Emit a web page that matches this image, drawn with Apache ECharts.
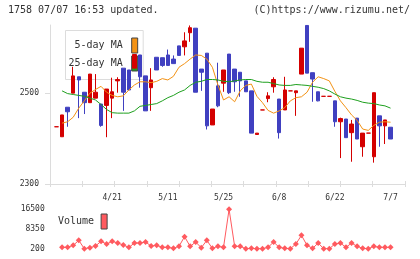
<!DOCTYPE html>
<html>
<head>
<meta charset="utf-8">
<script src="https://cdn.jsdelivr.net/npm/echarts@6/dist/echarts.min.js"></script>
<style>
  html, body { margin: 0; padding: 0; background: #fff; }
  #chart { width: 420px; height: 259px; }
</style>
</head>
<body>
<div id="chart"></div>
<script>
const dates = [
  "4/7", "4/8", "4/9", "4/10", "4/13", "4/14", "4/15", "4/16", "4/17", "4/20",
  "4/21", "4/22", "4/23", "4/24", "4/27", "4/28", "4/30", "5/1", "5/7", "5/8",
  "5/11", "5/12", "5/13", "5/14", "5/15", "5/18", "5/19", "5/20", "5/21", "5/22",
  "5/25", "5/26", "5/27", "5/28", "5/29", "6/1", "6/2", "6/3", "6/4", "6/5",
  "6/8", "6/9", "6/10", "6/11", "6/12", "6/15", "6/16", "6/17", "6/18", "6/19",
  "6/22", "6/23", "6/24", "6/25", "6/26", "6/29", "6/30", "7/1", "7/2", "7/3",
  "7/7"
]

// [open, close, low, high]
const ohlc = [
  [2426, 2426, 2426, 2426], [2404, 2452, 2404, 2452], [2469, 2459, 2426, 2469], [2500, 2538, 2500, 2558],
  [2536, 2529, 2445, 2536], [2502, 2479, 2454, 2502], [2479, 2542, 2479, 2542], [2489, 2502, 2489, 2542],
  [2476, 2429, 2426, 2476], [2473, 2509, 2403, 2509], [2489, 2503, 2445, 2534], [2527, 2530, 2501, 2535],
  [2555, 2502, 2461, 2555], [2551, 2507, 2507, 2551], [2555, 2585, 2555, 2585], [2584, 2536, 2512, 2584],
  [2538, 2461, 2461, 2538], [2512, 2529, 2461, 2555], [2579, 2551, 2551, 2579], [2578, 2561, 2558, 2578],
  [2584, 2561, 2561, 2596], [2575, 2565, 2565, 2583], [2604, 2583, 2583, 2604], [2602, 2615, 2583, 2634],
  [2633, 2644, 2613, 2649], [2643, 2502, 2502, 2643], [2553, 2546, 2505, 2553], [2588, 2428, 2420, 2588],
  [2430, 2465, 2430, 2465], [2516, 2472, 2469, 2567], [2522, 2551, 2503, 2551], [2586, 2501, 2498, 2586],
  [2553, 2525, 2503, 2553], [2546, 2527, 2492, 2546], [2527, 2503, 2503, 2527], [2505, 2412, 2412, 2505],
  [2409, 2412, 2409, 2412], [2463, 2463, 2463, 2463], [2488, 2494, 2480, 2502], [2514, 2530, 2501, 2535],
  [2487, 2413, 2400, 2487], [2463, 2507, 2463, 2536], [2505, 2505, 2505, 2505], [2501, 2505, 2450, 2505],
  [2542, 2599, 2542, 2599], [2649, 2544, 2544, 2649], [2545, 2531, 2481, 2545], [2503, 2483, 2482, 2503],
  [2493, 2493, 2493, 2493], [2493, 2493, 2493, 2493], [2483, 2437, 2426, 2483], [2437, 2444, 2357, 2446],
  [2443, 2402, 2402, 2443], [2413, 2432, 2349, 2441], [2445, 2399, 2399, 2445], [2382, 2412, 2360, 2412],
  [2412, 2412, 2412, 2412], [2360, 2501, 2347, 2501], [2450, 2428, 2382, 2450], [2428, 2441, 2388, 2441],
  [2425, 2399, 2399, 2425]
]

const ma5 = [
  null, 2434, 2437, 2447, 2467, 2483, 2500, 2508, 2515, 2502,
  2495, 2492, 2494, 2507, 2518, 2525, 2525, 2523, 2526, 2532,
  2529, 2537, 2557, 2565, 2575, 2584, 2583, 2575, 2557, 2518,
  2485, 2492, 2481, 2505, 2517, 2520, 2493, 2479, 2462, 2456,
  2461, 2468, 2483, 2490, 2492, 2502, 2524, 2536, 2532, 2527,
  2504, 2483, 2468, 2452, 2440, 2421, 2418, 2429, 2436, 2437,
  2436
]

const ma25 = [
  null, 2505, 2499, 2497, 2495, 2493, 2489, 2485, 2475, 2464,
  2457, 2456, 2456, 2456, 2461, 2471, 2473, 2475, 2477, 2483,
  2490, 2495, 2502, 2507, 2517, 2524, 2526, 2530, 2530, 2529,
  2526, 2525, 2527, 2529, 2530, 2530, 2526, 2524, 2524, 2521,
  2518, 2517, 2517, 2519, 2518, 2517, 2515, 2513, 2510, 2505,
  2498, 2492, 2489, 2487, 2484, 2480, 2478, 2477, 2474, 2472,
  2467
]

const volume = [
  null, 750, 750, 1580, 3650, 200, 610, 1300, 3240, 2130,
  3240, 2550, 1720, 750, 2550, 2550, 2960, 1300, 1580, 750,
  750, 340, 1170, 5180, 1170, 2960, 610, 3650, 340, 1170,
  750, 16500, 1170, 1170, 200, 340, 200, 200, 750, 2960,
  750, 340, 200, 2130, 5730, 1580, 340, 2550, 200, 200,
  2130, 2550, 750, 2550, 1170, 340, 200, 1170, 750, 750,
  750
]

const priceTicks = [2300, 2650, 200]
const volumeTicks = [200, 16500, 8150]

const mono = "DejaVu Sans Mono"
const textColor = "#333"
const axisColor = "#dcdcdc"

const chart = echarts.init(document.getElementById("chart"), null, { renderer: "canvas" })

const frame = { left: 50, right: 15, top: 25, height: 159 }
const plot = { left: 53.72, width: 339.6, top: 25, height: 159 }

chart.setOption({
  animation: false,
  backgroundColor: "#fff",
  title: [
    {
      text: "1758 07/07 16:53 updated.",
      left: 8, top: 5, padding: 0,
      textStyle: { fontFamily: mono, fontSize: 10, fontWeight: "normal", color: textColor },
    },
    {
      text: "(C)https://www.rizumu.net/",
      right: 10, top: 5, padding: 0,
      textStyle: { fontFamily: mono, fontSize: 10, fontWeight: "normal", color: textColor },
    },
  ],
  legend: [
    {
      data: ["5-day MA", "25-day MA"],
      orient: "vertical",
      align: "right",
      left: 65.5, top: 30.5,
      padding: [7, 5, 8, 3],
      itemGap: 2,
      itemWidth: 6, itemHeight: 15,
      icon: "rect",
      borderColor: axisColor, borderWidth: 1,
      selectedMode: false,
      z: 1,
      itemStyle: { borderColor: "#444", borderWidth: 1 },
      textStyle: { fontFamily: mono, fontSize: 10, color: textColor, padding: [0, 4, 0, 0] },
    },
    {
      data: ["Volume"],
      left: 58, top: 213.5,
      padding: 0,
      align: "right",
      itemWidth: 6, itemHeight: 15,
      icon: "rect",
      selectedMode: false,
      itemStyle: { borderColor: "#444", borderWidth: 1 },
      textStyle: { fontFamily: mono, fontSize: 10, color: textColor, padding: [0, 2, 0, 0] },
    },
  ],
  grid: [
    { ...frame },
    { ...plot },
    { left: plot.left, width: plot.width, top: 209.3, height: 39.4 },
    { ...frame },
  ],
  xAxis: [
    {
      gridIndex: 0, type: "value", min: 0, max: 11, interval: 1,
      axisLine: { lineStyle: { color: axisColor } },
      axisTick: { length: 3, lineStyle: { color: axisColor } },
      axisLabel: { show: false },
      splitLine: { show: false },
    },
    {
      gridIndex: 1, type: "category", data: dates, boundaryGap: true,
      axisLine: { show: false },
      axisTick: { show: false },
      axisLabel: {
        interval: (i) => i > 0 && i % 10 === 0,
        margin: 10,
        fontFamily: mono, fontSize: 8, color: textColor,
      },
    },
    {
      gridIndex: 2, type: "category", data: dates, boundaryGap: true, show: false,
    },
    {
      gridIndex: 3, type: "value", min: 0, max: 11, interval: 1,
      axisLine: { show: false },
      axisTick: { inside: true, length: 3, lineStyle: { color: axisColor } },
      axisLabel: { show: false },
      splitLine: { show: false },
    },
  ],
  yAxis: [
    {
      gridIndex: 0, type: "value",
      min: priceTicks[0], max: priceTicks[1], interval: priceTicks[2],
      axisLine: { show: true, lineStyle: { color: axisColor } },
      axisTick: { show: true, length: 5, lineStyle: { color: axisColor } },
      axisLabel: {
        margin: 11, fontFamily: mono, fontSize: 8, color: textColor,
        showMaxLabel: false,
        formatter: (v) => String(v),
      },
      splitLine: { show: false },
    },
    {
      gridIndex: 1, type: "value",
      min: priceTicks[0], max: priceTicks[1], show: false,
    },
    {
      gridIndex: 2, type: "value",
      min: volumeTicks[0], max: volumeTicks[1], interval: volumeTicks[2],
      axisLine: { show: false },
      axisTick: { show: false },
      axisLabel: {
        margin: 9, fontFamily: mono, fontSize: 8, color: textColor,
        formatter: (v) => String(v),
      },
      splitLine: { show: false },
    },
    {
      gridIndex: 3, type: "value", min: 0, max: 1, show: false,
    },
  ],
  series: [
    {
      name: "price",
      type: "candlestick",
      xAxisIndex: 1, yAxisIndex: 1,
      data: ohlc,
      barWidth: 4,
      z: 3,
      itemStyle: {
        color: "#d40000", color0: "#4040c0",
        borderColor: "#d40000", borderColor0: "#4040c0",
        borderColorDoji: "#d40000",
        borderWidth: 1,
      },
    },
    {
      name: "5-day MA",
      type: "line",
      xAxisIndex: 1, yAxisIndex: 1,
      data: ma5,
      showSymbol: false, symbol: "none",
      z: 4,
      color: "#f39214",
      lineStyle: { width: 1, color: "#f39214" },
    },
    {
      name: "25-day MA",
      type: "line",
      xAxisIndex: 1, yAxisIndex: 1,
      data: ma25,
      showSymbol: false, symbol: "none",
      z: 4,
      color: "#1ea01e",
      lineStyle: { width: 1, color: "#1ea01e" },
    },
    {
      name: "Volume",
      type: "line",
      xAxisIndex: 2, yAxisIndex: 2,
      data: volume,
      symbol: "diamond", symbolSize: 6,
      showAllSymbol: true,
      color: "#ff5a5f",
      itemStyle: { color: "#ff5a5f" },
      lineStyle: { width: 1, color: "#ff5a5f" },
    },
  ],
})
</script>
</body>
</html>
